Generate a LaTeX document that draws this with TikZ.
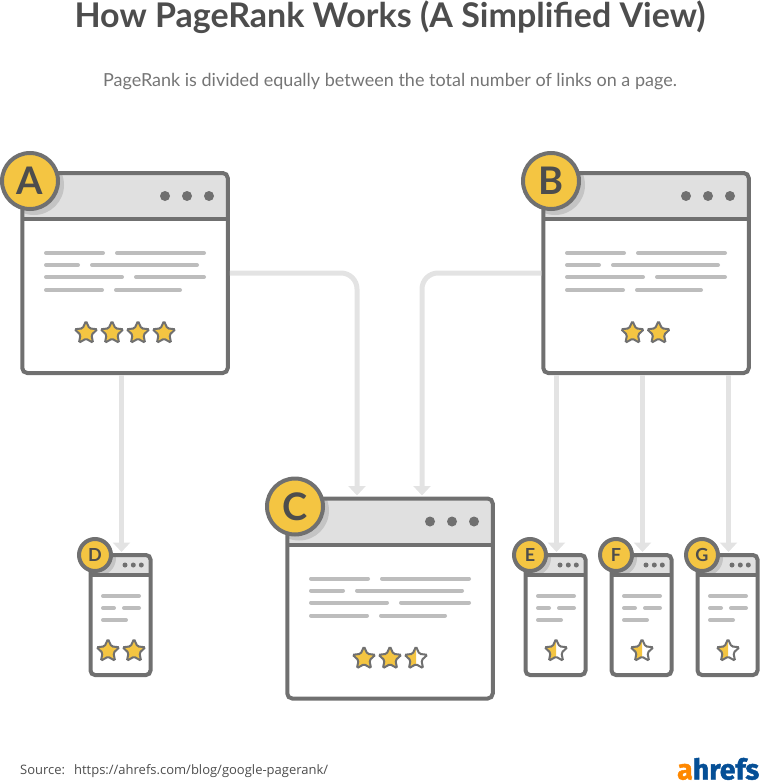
\documentclass[tikz,border=0pt]{standalone}
\usepackage{fontspec}
\setmainfont{Lato}
\newfontfamily\srcfont{Open Sans}
\newfontfamily\logofont[BoldFeatures={FakeBold=1.5}]{Fira Sans}
\usetikzlibrary{shapes.geometric,arrows.meta,calc}
\definecolor{winline}{HTML}{707070}
\definecolor{winhead}{HTML}{E0E0E0}
\definecolor{winshade}{HTML}{C4C4C4}
\definecolor{textbar}{HTML}{BDBDBD}
\definecolor{linkgray}{HTML}{E3E3E3}
\definecolor{goldfill}{HTML}{F4C542}
\definecolor{inktext}{HTML}{4D4D4D}
\definecolor{subtext}{HTML}{757575}
\definecolor{logoorange}{HTML}{FF8800}
\definecolor{logoblue}{HTML}{054F96}

\begin{document}
\begin{tikzpicture}[x=1pt,y=-1pt]
\tikzstyle{bigwin}=[draw=winline,line width=4pt,fill=white,rounded corners=5pt,minimum width=205.5pt,minimum height=200pt,inner sep=0pt]
\tikzstyle{smallwin}=[draw=winline,line width=4pt,fill=white,rounded corners=4.5pt,minimum width=60pt,minimum height=120pt,inner sep=0pt]
\tikzstyle{bigtag}=[circle,draw=winline,line width=4pt,fill=goldfill,minimum size=56pt,inner sep=0pt,text=inktext,font=\fontsize{38}{38}\selectfont\bfseries]
\tikzstyle{smalltag}=[circle,draw=winline,line width=4pt,fill=goldfill,minimum size=32pt,inner sep=0pt,text=inktext,font=\fontsize{18}{18}\selectfont\bfseries]
\tikzstyle{bar}=[textbar,line width=4pt,line cap=round,shorten >=2pt,shorten <=2pt]
\tikzstyle{fullstar}=[star,star points=5,star point ratio=2.1,draw=winline,line width=2pt,fill=goldfill,rounded corners=1.5pt,minimum size=24pt,inner sep=0pt]
\tikzstyle{halfstar}=[fullstar,fill=white,path picture={\fill[goldfill] (path picture bounding box.south west) rectangle (path picture bounding box.north);}]
\tikzstyle{link}=[->,>={Triangle[width=17pt,length=9.5pt]},draw=linkgray,line width=5pt,rounded corners=16pt,shorten >=1pt]

\useasboundingbox (0,0) rectangle (760,781);

\node[anchor=base,text=inktext,font=\fontsize{34}{34}\selectfont\bfseries] (title) at (390,27.5) {How PageRank Works (A Simplified View)};
\node[anchor=base,text=subtext,font=\fontsize{18}{18}\selectfont] (subtitle) at (390,86.5) {PageRank is divided equally between the total number of links on a page.};

% big windows
\foreach \name/\x/\y in {A/125/273,B/646/273,C/390/598.5}{
  \node[bigwin,path picture={
    \fill[winhead] (-110,-110) rectangle (110,-54);
    \fill[winshade] (-91,-88) circle (30pt);
  }] (\name) at (\x,\y) {};
  \draw[winline,line width=4pt] (\x-103,\y-54) -- (\x+103,\y-54);
  \foreach \dx in {40,62,84}
    \fill[winline] (\x+\dx,\y-77) circle (5pt);
  \foreach \dy/\ax/\bx/\cx in {-20/-20/-10/81,-8/-45/-35/74,4/-1/9/81,17/-21/-11/57}{
    \draw[bar] (\x-81,\y+\dy) -- (\x+\ax,\y+\dy);
    \draw[bar] (\x+\bx,\y+\dy) -- (\x+\cx,\y+\dy);
  }
  \node[bigtag] (\name tag) at (\x-95,\y-92) {\name};
}

% small windows
\foreach \name/\x in {D/120.5,E/555.5,F/641.5,G/727.5}{
  \node[smallwin,path picture={
    \fill[winhead] (-40,-70) rectangle (40,-40);
    \fill[winshade] (-22.5,-57) circle (18pt);
  }] (\name) at (\x,615) {};
  \draw[winline,line width=4pt] (\x-30,575) -- (\x+30,575);
  \foreach \dx in {4.5,12.8,20.8}
    \fill[winline] (\x+\dx,565) circle (2.5pt);
  \draw[bar] (\x-19.5,596) -- (\x+20.5,596);
  \draw[bar] (\x-19.5,608) -- (\x-4.5,608);
  \draw[bar] (\x+1.5,608) -- (\x+20.5,608);
  \draw[bar] (\x-19.5,620) -- (\x+7.5,620);
  \node[smalltag] (\name tag) at (\x-25.5,555) {\name};
}

% ratings
\foreach \n/\x/\y/\kind in {A1/86/333/fullstar,A2/112/333/fullstar,A3/138/333/fullstar,A4/164/333/fullstar,
  B1/632.5/333/fullstar,B2/658.5/333/fullstar,
  C1/364/658.5/fullstar,C2/390/658.5/fullstar,C3/416/658.5/halfstar,
  D1/108/651/fullstar,D2/134/651/fullstar,E1/556/651/halfstar,F1/642/651/halfstar,G1/728/651/halfstar}
  \node[\kind] (star\n) at (\x,\y) {};

\draw[link] (A.east) -| ([xshift=-33pt]C.north);
\draw[link] (B.west) -| ([xshift=32pt]C.north);
\draw[link] ([xshift=1pt]D.north |- A.south) -- ([xshift=1pt]D.north);
\draw[link] ([xshift=1pt]E.north |- B.south) -- ([xshift=1pt]E.north);
\draw[link] ([xshift=1pt]F.north |- B.south) -- ([xshift=1pt]F.north);
\draw[link] ([xshift=1pt]G.north |- B.south) -- ([xshift=1pt]G.north);

\node[anchor=base west,inner sep=0pt,text=inktext,font=\srcfont\fontsize{13}{13}\selectfont] (source) at (20,774) {Source:\hspace{9pt}https://ahrefs.com/blog/google-pagerank/};
\node[anchor=base east,inner sep=0pt,font=\logofont\fontsize{28.5}{28.5}\selectfont\bfseries] (logo) at (759.5,779.5) {\textcolor{logoorange}{a}\textcolor{logoblue}{hrefs}};
\end{tikzpicture}
\end{document}
